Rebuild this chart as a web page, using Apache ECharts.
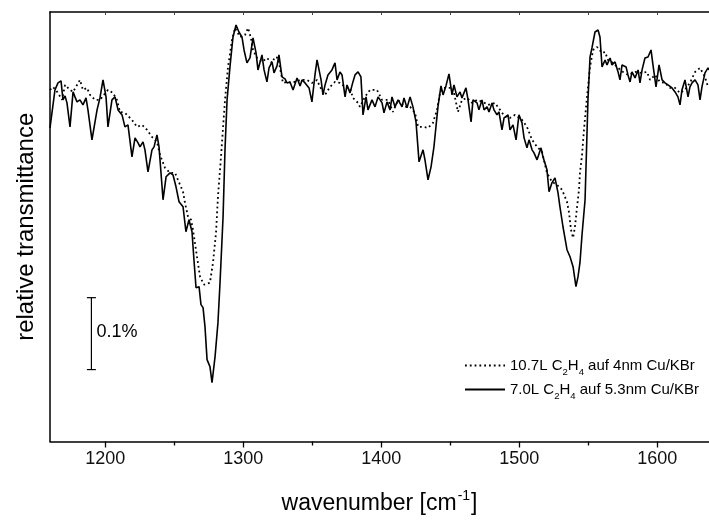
<!DOCTYPE html>
<html>
<head>
<meta charset="utf-8">
<script src="https://cdn.jsdelivr.net/npm/echarts@6/dist/echarts.min.js"></script>
<style>html,body{margin:0;padding:0;background:#fff}#c{width:709px;height:520px}</style>
</head>
<body>
<div id="c"></div>
<script>
// x: wavenumber [cm^-1]; y: relative transmittance (arbitrary units, 72 units = 0.1 %)
const xMin = 1160, xMax = 1637.5;
const yMin = 0, yMax = 430;
const majorTicks = [1200, 1300, 1400, 1500, 1600];
const minorTicks = [1250, 1350, 1450, 1550];
const topTicks = [1200, 1250, 1300, 1350, 1400, 1450, 1500, 1550, 1600];

const dottedName = '10.7L C2H4 auf 4nm Cu/KBr';
const solidName = '7.0L C2H4 auf 5.3nm Cu/KBr';

const dottedSpectrum = [
[1160.0,352],[1162.2,355],[1165.8,349],[1168.7,342],[1170.9,357],[1174.5,352],[1176.7,350],[1181.7,362],
[1183.9,352],[1186.8,354],[1189.0,347],[1192.6,342],[1196.2,342],[1199.1,347],[1202.0,352],[1205.6,349],
[1208.5,342],[1210.7,330],[1214.3,329],[1219.4,322],[1223.0,315],[1226.7,317],[1230.3,312],[1233.9,305],
[1237.5,300],[1239.7,287],[1243.3,274],[1247.0,269],[1250.6,269],[1252.7,262],[1256.4,250],[1257.8,239],
[1260.0,225],[1262.2,222],[1263.6,212],[1266.5,185],[1268.7,165],[1271.6,157],[1275.9,159],[1278.1,179],
[1280.3,209],[1281.7,245],[1283.9,285],[1286.8,342],[1289.0,375],[1291.9,402],[1294.1,414],[1297.7,405],
[1301.3,407],[1303.5,414],[1305.6,404],[1307.1,392],[1310.0,384],[1313.6,380],[1317.2,384],[1320.9,379],
[1323.0,385],[1325.2,384],[1328.8,359],[1331.7,360],[1335.4,359],[1339.0,361],[1342.6,362],[1346.2,362],
[1349.8,359],[1353.5,362],[1355.6,355],[1359.3,347],[1362.9,355],[1366.5,360],[1370.1,359],[1373.8,355],
[1377.4,354],[1379.5,344],[1383.2,339],[1384.6,335],[1388.2,345],[1391.9,352],[1396.9,352],[1400.6,342],
[1404.9,342],[1408.5,330],[1412.2,342],[1417.2,335],[1420.9,335],[1424.5,329],[1426.7,315],[1430.3,315],
[1433.9,314],[1437.5,319],[1440.4,332],[1442.6,349],[1444.8,354],[1448.4,354],[1452.0,354],[1455.6,330],
[1458.5,342],[1462.2,344],[1465.8,339],[1469.4,342],[1473.7,340],[1477.4,337],[1482.4,339],[1486.1,332],
[1489.7,325],[1493.3,324],[1496.9,327],[1502.0,322],[1505.6,315],[1509.3,302],[1512.9,295],[1516.5,290],
[1520.1,269],[1523.7,260],[1527.4,257],[1531.0,252],[1534.6,240],[1536.1,229],[1537.5,212],[1539.0,204],
[1540.4,215],[1541.9,235],[1543.3,252],[1544.0,269],[1545.5,287],[1546.9,312],[1549.1,345],[1551.3,375],
[1553.5,392],[1556.4,395],[1560.0,389],[1562.2,390],[1564.3,382],[1568.0,379],[1571.6,374],[1575.2,370],
[1578.8,367],[1583.9,370],[1589.0,369],[1592.6,370],[1594.8,362],[1598.4,367],[1602.0,360],[1605.6,359],
[1609.3,354],[1612.9,354],[1616.5,349],[1620.1,352],[1623.7,359],[1627.4,370],[1631.0,374],[1634.6,365],
[1636.8,355]
];

const solidSpectrum = [
[1160.0,314],[1163.6,352],[1165.8,359],[1168.0,361],[1169.4,342],[1170.9,346],[1172.3,339],[1174.5,315],
[1176.7,350],[1178.1,345],[1179.6,340],[1181.7,342],[1183.9,337],[1186.1,344],[1187.5,332],[1190.4,302],
[1194.1,332],[1196.2,344],[1198.4,362],[1200.6,345],[1202.0,315],[1204.9,342],[1207.1,345],[1209.3,332],
[1212.2,327],[1214.3,315],[1216.5,317],[1219.4,285],[1221.6,304],[1223.8,299],[1225.2,295],[1227.4,300],
[1228.8,292],[1231.0,270],[1233.9,292],[1235.4,295],[1237.5,307],[1239.0,295],[1241.9,242],[1244.1,265],
[1247.0,269],[1249.1,267],[1251.3,255],[1253.5,240],[1256.4,235],[1258.5,210],[1260.7,222],[1262.9,210],
[1264.3,182],[1265.8,154],[1268.0,155],[1269.4,137],[1270.9,134],[1272.3,115],[1273.8,82],[1275.9,75],
[1277.4,59],[1279.6,85],[1281.7,119],[1283.2,159],[1285.4,225],[1286.8,292],[1288.3,342],[1290.4,375],
[1292.6,405],[1294.8,417],[1296.9,410],[1299.1,405],[1300.6,392],[1302.7,379],[1304.9,384],[1307.1,404],
[1309.3,389],[1310.7,372],[1313.6,387],[1315.1,372],[1317.2,360],[1318.7,374],[1320.9,380],[1322.3,369],
[1324.5,376],[1325.9,387],[1328.1,365],[1330.3,363],[1331.7,359],[1333.9,360],[1336.1,352],[1339.0,364],
[1341.2,356],[1342.6,362],[1344.8,359],[1347.7,354],[1349.8,340],[1352.0,367],[1353.5,382],[1356.4,362],
[1357.8,347],[1359.3,357],[1361.4,367],[1364.3,372],[1366.5,379],[1368.0,362],[1370.1,370],[1371.6,367],
[1373.8,345],[1375.2,357],[1377.4,349],[1379.5,360],[1381.0,367],[1383.2,370],[1385.3,365],[1386.8,327],
[1389.0,345],[1390.4,332],[1393.3,342],[1395.5,335],[1397.7,345],[1400.6,339],[1402.0,329],[1404.2,340],
[1406.4,332],[1407.8,345],[1410.0,335],[1412.2,342],[1415.1,335],[1416.5,344],[1418.7,334],[1420.9,345],
[1423.0,335],[1425.2,320],[1427.4,280],[1430.3,292],[1431.7,282],[1433.9,262],[1436.1,275],[1438.2,295],
[1441.1,335],[1443.3,356],[1444.8,347],[1446.9,356],[1449.1,368],[1451.3,347],[1452.7,357],[1454.9,345],
[1457.1,350],[1458.5,344],[1461.4,354],[1462.9,342],[1465.1,320],[1466.5,342],[1469.4,339],[1470.8,332],
[1473.0,342],[1474.5,332],[1476.7,335],[1478.1,330],[1480.3,339],[1481.7,332],[1483.9,327],[1485.3,330],
[1487.5,312],[1489.0,324],[1491.9,327],[1493.3,312],[1495.5,317],[1497.7,302],[1499.8,327],[1502.0,319],
[1503.5,304],[1505.6,294],[1507.1,302],[1509.3,292],[1510.7,289],[1512.9,282],[1515.8,294],[1517.2,285],
[1520.1,272],[1521.6,250],[1523.7,259],[1525.9,264],[1528.1,249],[1529.5,235],[1531.7,215],[1534.6,192],
[1536.8,185],[1539.0,175],[1541.1,155],[1542.6,165],[1544.0,179],[1545.5,207],[1547.7,242],[1549.8,342],
[1551.3,385],[1552.7,394],[1554.9,410],[1557.1,412],[1558.5,405],[1560.0,375],[1562.2,382],[1563.6,377],
[1565.8,384],[1567.2,377],[1569.4,380],[1571.6,370],[1573.0,362],[1574.5,377],[1577.4,375],[1578.8,367],
[1580.3,360],[1581.7,370],[1583.9,364],[1586.1,372],[1587.5,359],[1589.0,372],[1591.1,384],[1593.3,385],
[1595.5,392],[1596.9,377],[1599.1,355],[1601.3,377],[1603.5,362],[1605.6,359],[1607.8,357],[1610.7,354],
[1612.9,350],[1615.0,345],[1616.5,337],[1617.9,352],[1620.1,362],[1622.3,345],[1623.7,355],[1625.2,359],
[1627.4,362],[1629.5,357],[1631.0,342],[1632.4,355],[1634.6,369],[1636.8,374],[1637.5,372]
];

// scale bar: [wavenumber position, lower y, upper y] -> 0.1 %
const scaleBar = [[1190, 72, 144]];
const scaleBarLabel = '0.1%';

const FONT = 'Liberation Sans, Arial, sans-serif';

function legendFormatter(name) {
  return name.replace('C2H4', '{n|C}{s|2}{n|H}{s|4}');
}

const chart = echarts.init(document.getElementById('c'), null, {renderer: 'canvas'});
chart.setOption({
  animation: false,
  backgroundColor: '#fff',
  grid: {left: 50, right: 0, top: 12, bottom: 78, containLabel: false},
  legend: {
    orient: 'vertical',
    left: 464, top: 356,
    itemWidth: 40, itemHeight: 12, itemGap: 3,
    padding: 0,
    data: [dottedName, solidName],
    formatter: legendFormatter,
    itemStyle: {opacity: 0},
    textStyle: {
      fontFamily: FONT, fontSize: 15, color: '#000', lineHeight: 19,
      rich: {
        n: {fontFamily: FONT, fontSize: 15, color: '#000', lineHeight: 19},
        s: {fontFamily: FONT, fontSize: 9.5, color: '#000', lineHeight: 10, verticalAlign: 'bottom', padding: [0, 0, -2, 0]}
      }
    }
  },
  xAxis: [
    {
      type: 'value', position: 'bottom', min: xMin, max: xMax,
      name: '{a|wavenumber [cm}{sup|-1}{a|]}',
      nameLocation: 'middle', nameGap: 48,
      nameTextStyle: {
        fontFamily: FONT, fontSize: 23, color: '#000',
        rich: {
          a: {fontFamily: FONT, fontSize: 23, color: '#000', lineHeight: 28},
          sup: {fontFamily: FONT, fontSize: 14, color: '#000', lineHeight: 14, verticalAlign: 'top', padding: [0, 1, 0, 1]}
        }
      },
      axisLine: {show: true, lineStyle: {color: '#000', width: 1.5}},
      axisTick: {show: true, inside: false, length: 6, customValues: majorTicks, lineStyle: {color: '#000', width: 1.3}},
      axisLabel: {show: true, customValues: majorTicks, margin: 9, fontFamily: FONT, fontSize: 18, color: '#111',
                  formatter: function (v) { return String(v); }},
      splitLine: {show: false}
    },
    {
      type: 'value', position: 'bottom', min: xMin, max: xMax,
      axisLine: {show: false},
      axisTick: {show: true, inside: false, length: 4, customValues: minorTicks, lineStyle: {color: '#000', width: 1.3}},
      axisLabel: {show: false},
      splitLine: {show: false}
    },
    {
      type: 'value', position: 'top', min: xMin, max: xMax,
      axisLine: {show: true, lineStyle: {color: '#000', width: 1.5}},
      axisTick: {show: true, inside: true, length: 3, customValues: topTicks, lineStyle: {color: '#444', width: 1}},
      axisLabel: {show: false},
      splitLine: {show: false}
    }
  ],
  yAxis: {
    type: 'value', min: yMin, max: yMax,
    name: 'relative transmittance',
    nameLocation: 'middle', nameGap: 12,
    nameTextStyle: {fontFamily: FONT, fontSize: 24, color: '#000'},
    axisLine: {show: true, lineStyle: {color: '#000', width: 1.5}},
    axisTick: {show: false},
    axisLabel: {show: false},
    splitLine: {show: false}
  },
  series: [
    {
      name: dottedName, type: 'line', xAxisIndex: 0, data: dottedSpectrum,
      symbol: 'none', smooth: false,
      lineStyle: {color: '#000', width: 1.8, type: [1.8, 3]},
      itemStyle: {color: '#000'},
      z: 2
    },
    {
      name: solidName, type: 'line', xAxisIndex: 0, data: solidSpectrum,
      symbol: 'none', smooth: false,
      lineStyle: {color: '#000', width: 1.6, type: 'solid'},
      itemStyle: {color: '#000'},
      z: 3
    },
    {
      type: 'custom', xAxisIndex: 0, data: scaleBar,
      encode: {x: 0, y: [1, 2]},
      renderItem: function (params, api) {
        const lo = api.coord([api.value(0), api.value(1)]);
        const hi = api.coord([api.value(0), api.value(2)]);
        const cap = 4.5;
        const st = {stroke: '#000', lineWidth: 1.2};
        return {
          type: 'group',
          children: [
            {type: 'line', shape: {x1: lo[0], y1: lo[1], x2: hi[0], y2: hi[1]}, style: st},
            {type: 'line', shape: {x1: lo[0] - cap, y1: lo[1], x2: lo[0] + cap, y2: lo[1]}, style: st},
            {type: 'line', shape: {x1: hi[0] - cap, y1: hi[1], x2: hi[0] + cap, y2: hi[1]}, style: st},
            {type: 'text', x: lo[0] + 5, y: (lo[1] + hi[1]) / 2 - 2,
             style: {text: scaleBarLabel, fill: '#000', font: '18px ' + FONT, align: 'left', verticalAlign: 'middle'}}
          ]
        };
      },
      z: 4
    }
  ]
});
</script>
</body>
</html>
